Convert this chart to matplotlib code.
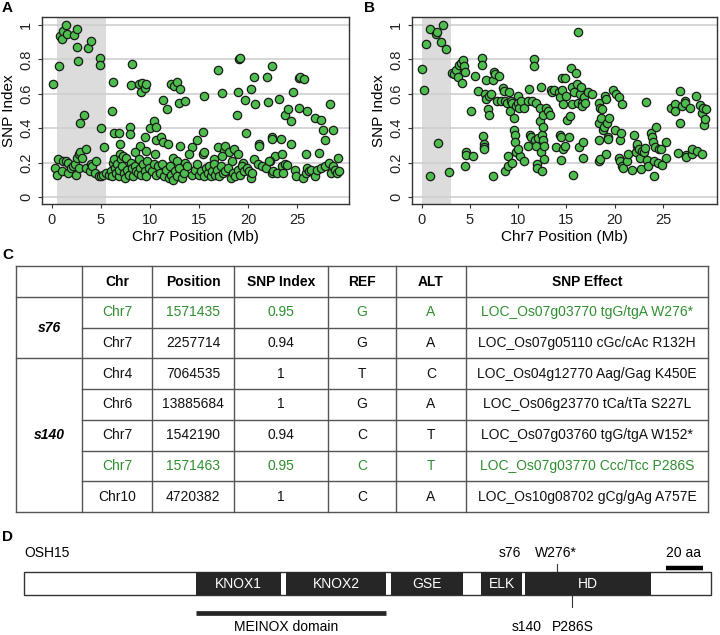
import matplotlib
matplotlib.use("Agg")
import matplotlib.pyplot as plt
from matplotlib.patches import Rectangle

plt.rcParams['font.family'] = ['Liberation Sans', 'DejaVu Sans']
plt.rcParams['font.size'] = 10

# ---- panel A data (Chr7 position in Mb, SNP index) ----
a_pts = [
    (0.15, 0.655), (0.75, 0.765), (0.85, 0.935), (1.0, 0.92), (1.15, 0.965), (1.4, 1.0),
    (1.5, 0.95), (2.3, 0.945), (2.6, 0.98), (2.6, 0.87), (2.7, 0.79), (3.7, 0.865),
    (3.95, 0.905), (4.95, 0.81), (4.95, 0.77), (2.9, 0.43), (3.25, 0.475), (5.05, 0.40),
    (5.3, 0.29), (0.3, 0.17), (0.5, 0.13), (0.6, 0.22), (1.0, 0.15), (1.1, 0.21),
    (1.4, 0.21), (1.7, 0.20), (1.7, 0.14), (2.0, 0.17), (2.2, 0.18), (2.4, 0.19),
    (2.5, 0.13), (2.6, 0.23), (2.8, 0.17), (2.8, 0.25), (2.9, 0.26), (3.1, 0.23),
    (3.5, 0.28), (3.5, 0.17), (3.9, 0.15), (4.0, 0.19), (4.1, 0.18), (4.4, 0.14),
    (4.5, 0.21), (4.8, 0.12), (5.0, 0.12), (5.2, 0.13), (5.5, 0.14),
    (6.1, 0.50), (6.2, 0.67), (6.3, 0.37), (6.9, 0.375), (7.0, 0.31), (8.0, 0.41),
    (8.0, 0.365), (8.1, 0.65), (8.2, 0.775), (8.9, 0.66), (9.1, 0.61), (9.2, 0.665),
    (9.5, 0.635), (9.6, 0.66), (9.5, 0.35), (9.0, 0.30), (10.0, 0.40), (10.4, 0.44),
    (10.6, 0.41), (10.6, 0.33), (10.5, 0.25), (9.6, 0.27), (8.5, 0.26),
    (5.8, 0.13), (6.0, 0.15), (6.1, 0.12), (6.2, 0.20), (6.3, 0.22), (6.4, 0.17),
    (6.5, 0.14), (6.6, 0.19), (6.8, 0.12), (6.9, 0.16), (7.0, 0.25), (7.1, 0.22),
    (7.2, 0.18), (7.3, 0.24), (7.4, 0.14), (7.5, 0.11), (7.6, 0.23), (7.7, 0.16),
    (7.9, 0.13), (8.1, 0.20), (8.2, 0.17), (8.3, 0.12), (8.5, 0.18), (8.6, 0.15),
    (8.8, 0.14), (8.9, 0.22), (9.0, 0.17), (9.1, 0.13), (9.3, 0.19), (9.5, 0.15),
    (9.6, 0.12), (9.7, 0.21), (9.9, 0.17), (10.2, 0.15), (10.4, 0.19), (10.6, 0.13),
    (10.8, 0.18),
    (11.3, 0.565), (11.7, 0.51), (12.2, 0.655), (12.5, 0.645), (12.8, 0.67), (13.1, 0.63),
    (13.0, 0.545), (13.6, 0.56), (11.1, 0.35), (11.3, 0.32), (11.8, 0.31), (13.1, 0.30),
    (14.3, 0.29), (14.8, 0.33), (15.4, 0.38), (15.5, 0.59), (15.4, 0.25), (15.5, 0.26),
    (12.4, 0.23), (12.8, 0.21), (13.6, 0.20), (14.0, 0.25),
    (11.0, 0.14), (11.2, 0.19), (11.4, 0.12), (11.6, 0.16), (11.9, 0.11), (12.0, 0.18),
    (12.2, 0.13), (12.4, 0.10), (12.6, 0.15), (12.8, 0.12), (13.0, 0.17), (13.3, 0.11),
    (13.5, 0.14), (13.8, 0.18), (14.3, 0.13), (14.6, 0.16), (14.8, 0.19), (15.0, 0.13),
    (15.2, 0.15), (15.5, 0.12), (15.7, 0.17), (15.9, 0.14),
    (16.9, 0.74), (17.4, 0.605), (19.1, 0.80), (19.15, 0.81), (18.95, 0.61), (18.9, 0.48),
    (19.8, 0.375), (19.7, 0.565), (16.9, 0.29), (17.6, 0.27), (17.7, 0.30), (18.1, 0.26),
    (18.6, 0.28), (19.0, 0.25), (16.5, 0.22), (17.4, 0.24), (18.4, 0.21), (19.5, 0.20),
    (16.0, 0.18), (16.2, 0.12), (16.3, 0.15), (16.5, 0.19), (16.6, 0.13), (16.8, 0.16),
    (17.0, 0.12), (17.2, 0.18), (17.5, 0.14), (17.7, 0.15), (18.0, 0.17), (18.3, 0.11),
    (18.5, 0.14), (18.7, 0.12), (19.0, 0.16), (19.2, 0.13), (19.4, 0.18), (19.6, 0.15),
    (19.9, 0.17),
    (20.3, 0.63), (20.6, 0.70), (20.7, 0.54), (21.9, 0.70), (22.0, 0.555), (22.5, 0.765),
    (23.2, 0.57), (23.8, 0.48), (24.1, 0.515), (24.4, 0.44), (24.6, 0.61), (25.2, 0.69),
    (25.3, 0.70), (25.7, 0.685), (25.2, 0.52), (21.1, 0.31), (21.15, 0.30), (22.4, 0.35),
    (22.4, 0.335), (23.4, 0.335), (24.4, 0.31), (20.6, 0.22), (22.8, 0.24), (23.5, 0.25),
    (22.2, 0.21),
    (20.1, 0.15), (20.3, 0.11), (20.4, 0.14), (21.0, 0.19), (21.4, 0.18), (21.8, 0.17),
    (22.1, 0.21), (22.4, 0.14), (22.6, 0.15), (23.0, 0.14), (23.5, 0.18), (23.6, 0.14),
    (23.8, 0.19), (24.0, 0.185), (24.8, 0.16), (24.9, 0.12),
    (25.9, 0.25), (26.0, 0.50), (26.8, 0.46), (27.4, 0.45), (27.6, 0.39), (27.9, 0.33),
    (28.4, 0.54), (28.7, 0.39), (27.2, 0.255), (29.2, 0.23),
    (25.6, 0.11), (25.9, 0.14), (26.0, 0.17), (26.2, 0.15), (26.4, 0.16), (26.8, 0.12),
    (27.0, 0.16), (27.4, 0.17), (27.9, 0.18), (28.3, 0.20), (28.5, 0.14), (28.7, 0.18),
    (28.9, 0.16), (29.1, 0.14), (29.3, 0.15),
]

# ---- panel B data ----
b_pts = [
    (0.0, 0.745), (0.2, 0.62), (0.4, 0.89), (0.85, 0.975), (0.9, 0.12), (1.5, 0.95),
    (1.55, 0.96), (1.7, 0.315), (2.0, 0.90), (2.25, 1.0), (2.5, 0.86), (2.8, 0.145),
    (3.1, 0.72), (3.3, 0.715), (3.6, 0.74), (3.8, 0.70), (3.9, 0.77), (4.1, 0.78),
    (4.2, 0.665), (4.3, 0.795), (4.35, 0.76), (4.5, 0.725), (4.5, 0.18), (4.6, 0.265),
    (4.6, 0.245), (5.1, 0.50), (5.3, 0.24), (5.5, 0.705), (5.8, 0.615), (6.3, 0.81),
    (6.3, 0.77), (6.4, 0.355), (6.5, 0.31), (6.5, 0.29), (6.5, 0.28), (6.6, 0.60),
    (6.7, 0.68), (6.7, 0.57), (6.9, 0.51), (7.0, 0.59), (7.0, 0.475), (7.2, 0.60),
    (7.4, 0.68), (7.45, 0.725), (7.4, 0.12), (7.6, 0.715), (7.8, 0.56), (8.0, 0.705),
    (8.2, 0.56), (8.4, 0.635), (8.5, 0.615), (8.6, 0.56), (8.6, 0.15), (8.8, 0.55),
    (8.9, 0.24), (8.9, 0.18), (9.1, 0.61), (9.2, 0.50), (9.3, 0.56), (9.4, 0.55),
    (9.4, 0.20), (9.6, 0.46), (9.6, 0.39), (9.7, 0.36), (9.7, 0.32), (9.8, 0.53),
    (9.8, 0.26), (10.0, 0.59), (10.0, 0.55), (10.1, 0.52), (10.2, 0.24), (10.0, 0.28),
    (10.3, 0.56), (10.6, 0.52), (10.6, 0.21), (11.0, 0.56), (11.0, 0.30), (11.1, 0.63),
    (11.2, 0.36), (11.3, 0.35), (11.4, 0.56), (11.6, 0.80), (11.6, 0.76), (11.7, 0.33),
    (11.8, 0.55), (11.8, 0.30), (11.9, 0.19), (11.95, 0.17), (12.1, 0.345), (12.3, 0.52),
    (12.3, 0.44), (12.4, 0.64), (12.4, 0.26), (12.5, 0.36), (12.5, 0.15), (12.6, 0.48),
    (12.6, 0.41), (12.6, 0.33), (12.7, 0.30), (12.7, 0.22), (12.9, 0.52), (13.1, 0.50),
    (13.3, 0.48), (13.4, 0.62), (13.5, 0.61), (13.7, 0.62), (13.9, 0.29), (14.2, 0.61),
    (14.3, 0.58), (14.3, 0.36), (14.4, 0.215), (14.4, 0.35), (14.5, 0.69), (14.5, 0.62),
    (14.6, 0.54), (14.6, 0.28), (14.9, 0.69), (14.9, 0.30), (15.0, 0.59), (15.1, 0.45),
    (15.3, 0.35), (15.4, 0.47),
    (15.5, 0.75), (15.6, 0.64), (15.6, 0.54), (15.7, 0.13), (15.8, 0.61), (16.0, 0.72),
    (16.1, 0.66), (16.2, 0.96), (16.2, 0.55), (16.3, 0.29), (16.4, 0.60), (16.5, 0.64),
    (16.6, 0.55), (16.6, 0.53), (16.7, 0.32), (16.7, 0.23), (16.8, 0.58), (16.9, 0.55),
    (17.2, 0.61), (17.7, 0.60), (18.4, 0.55), (18.5, 0.52), (18.4, 0.43), (18.4, 0.33),
    (18.4, 0.21), (18.5, 0.22), (18.6, 0.46), (18.7, 0.51), (18.8, 0.39), (18.9, 0.41),
    (19.0, 0.59), (19.05, 0.25), (19.1, 0.57), (19.2, 0.43), (19.3, 0.35), (19.3, 0.34),
    (19.4, 0.46), (19.8, 0.62), (20.0, 0.39), (20.1, 0.60),
    (20.4, 0.58), (20.4, 0.23), (20.5, 0.21), (20.6, 0.33), (20.7, 0.37), (20.8, 0.54),
    (20.8, 0.18), (20.9, 0.17), (21.3, 0.21), (21.4, 0.25), (21.8, 0.16), (22.0, 0.36),
    (22.2, 0.26), (22.3, 0.30), (22.3, 0.31), (22.5, 0.28), (22.6, 0.23), (22.7, 0.165),
    (22.8, 0.27), (23.0, 0.26), (23.1, 0.285), (23.2, 0.555), (23.3, 0.215), (23.4, 0.18),
    (23.8, 0.37), (23.9, 0.35), (24.0, 0.32), (24.1, 0.21), (24.1, 0.12), (24.2, 0.29),
    (24.3, 0.41), (24.5, 0.20), (24.6, 0.28), (24.8, 0.28), (24.9, 0.185), (25.3, 0.23),
    (25.3, 0.32),
    (25.8, 0.52), (26.2, 0.54), (26.3, 0.50), (26.6, 0.255), (26.8, 0.615), (26.8, 0.43),
    (27.0, 0.53), (27.3, 0.56), (27.3, 0.545), (27.4, 0.245), (27.4, 0.235), (27.8, 0.52),
    (28.0, 0.25), (28.0, 0.28), (28.4, 0.59), (28.5, 0.27), (28.8, 0.535), (29.0, 0.49),
    (29.0, 0.25), (29.2, 0.52), (29.3, 0.42), (29.4, 0.455), (29.5, 0.515),
]

a_shade = (0.5, 5.5)
b_shade = (0.0, 3.0)

# ---- panel C table ----
col_headers = ['', 'Chr', 'Position', 'SNP Index', 'REF', 'ALT', 'SNP Effect']
samples = ['s76', 's140']
sample_rows = [2, 5]
chrs = ['Chr7', 'Chr7', 'Chr4', 'Chr6', 'Chr7', 'Chr7', 'Chr10']
positions = ['1571435', '2257714', '7064535', '13885684', '1542190', '1571463', '4720382']
snp_index = ['0.95', '0.94', '1', '1', '0.94', '0.95', '1']
refs = ['G', 'G', 'T', 'G', 'C', 'C', 'C']
alts = ['A', 'A', 'C', 'A', 'T', 'T', 'A']
effects = ['LOC_Os07g03770 tgG/tgA W276*', 'LOC_Os07g05110 cGc/cAc R132H',
           'LOC_Os04g12770 Aag/Gag K450E', 'LOC_Os06g23770 tCa/tTa S227L',
           'LOC_Os07g03760 tgG/tgA W152*', 'LOC_Os07g03770 Ccc/Tcc P286S',
           'LOC_Os10g08702 gCg/gAg A757E']
highlight = [True, False, False, False, False, True, False]

# ---- panel D domains (pixel layout of the protein sketch) ----
domains = ['KNOX1', 'KNOX2', 'GSE', 'ELK', 'HD']
dom_start = [196, 286, 391, 481, 525]
dom_end = [281, 386, 463, 522, 651]

green = '#4dbd4d'
text_green = '#2f8f2f'

fig = plt.figure(figsize=(7.2, 6.35), dpi=100)


def scatter_panel(rect, pts, shade, xlim):
    ax = fig.add_axes(rect)
    ax.axvspan(shade[0], shade[1], color='#dcdcdc', lw=0, zorder=0)
    for yv in [0, 0.2, 0.4, 0.6, 0.8, 1.0]:
        ax.axhline(yv, color='#cfcfcf', lw=1.2, zorder=1)
    xs = [p[0] for p in pts]
    ys = [p[1] for p in pts]
    ax.scatter(xs, ys, s=36, c=green, edgecolors='#1a1a1a', linewidths=0.9, zorder=3)
    ax.set_xlim(*xlim)
    ax.set_ylim(-0.04, 1.047)
    ax.set_xticks([0, 5, 10, 15, 20, 25])
    ax.set_yticks([0, 0.2, 0.4, 0.6, 0.8, 1.0])
    ax.set_yticklabels(['0', '0.2', '0.4', '0.6', '0.8', '1'], rotation=90, va='center')
    ax.tick_params(labelsize=10.5, color='#333333', length=3, labelcolor='#222222')
    for sp in ax.spines.values():
        sp.set_color('#333333')
        sp.set_linewidth(1.0)
    ax.set_xlabel('Chr7 Position (Mb)', fontsize=11, labelpad=2)
    ax.set_ylabel('SNP Index', fontsize=11, labelpad=2)
    return ax


scatter_panel([42 / 720, 1 - 204 / 635, 307 / 720, 187 / 635], a_pts, a_shade, (-1.0, 30.3))
scatter_panel([412 / 720, 1 - 204 / 635, 305 / 720, 187 / 635], b_pts, b_shade, (-1.0, 30.6))

# overlay in pixel coordinates for labels, table and protein sketch
ov = fig.add_axes([0, 0, 1, 1], zorder=-1)
ov.set_xlim(0, 720)
ov.set_ylim(635, 0)
ov.axis('off')

for lab, (x, y) in zip(['A', 'B', 'C', 'D'], [(2, 8), (364, 8), (2, 255), (2, 537)]):
    ov.text(x, y, lab, fontsize=11, fontweight='bold', va='center', ha='left')

# table
col_x = [16, 82, 152, 234, 328, 396, 466, 708]
top = 266
header_h = 31
row_h = 30.7
n_rows = len(chrs)
bottom = top + header_h + n_rows * row_h
lc = '#555555'
for x in col_x:
    ov.plot([x, x], [top, bottom], color=lc, lw=1.0)
ov.plot([col_x[0], col_x[-1]], [top, top], color=lc, lw=1.0)
ov.plot([col_x[0], col_x[-1]], [bottom, bottom], color=lc, lw=1.0)
ov.plot([col_x[0], col_x[-1]], [top + header_h, top + header_h], color=lc, lw=1.0)
r = 0
for s, n in zip(samples, sample_rows):
    y0 = top + header_h + r * row_h
    ov.text((col_x[0] + col_x[1]) / 2, y0 + n * row_h / 2, s, fontsize=10,
            fontweight='bold', style='italic', ha='center', va='center')
    for k in range(1, n):
        yy = y0 + k * row_h
        ov.plot([col_x[1], col_x[-1]], [yy, yy], color=lc, lw=1.0)
    r += n
    if r < n_rows:
        yy = top + header_h + r * row_h
        ov.plot([col_x[0], col_x[-1]], [yy, yy], color=lc, lw=1.0)

for j, h in enumerate(col_headers):
    ov.text((col_x[j] + col_x[j + 1]) / 2, top + header_h / 2 + 1, h, fontsize=10,
            fontweight='bold', ha='center', va='center')

columns = [chrs, positions, snp_index, refs, alts, effects]
for i in range(n_rows):
    yc = top + header_h + (i + 0.5) * row_h
    colr = text_green if highlight[i] else '#111111'
    for j, col in enumerate(columns):
        ov.text((col_x[j + 1] + col_x[j + 2]) / 2, yc, col[i], fontsize=10,
                ha='center', va='center', color=colr)

# protein sketch
bar_y0, bar_y1 = 572, 595
ov.add_patch(Rectangle((24, bar_y0), 711 - 24, bar_y1 - bar_y0, facecolor='white',
                       edgecolor='#333333', lw=1.0))
for name, x0, x1 in zip(domains, dom_start, dom_end):
    ov.add_patch(Rectangle((x0, bar_y0), x1 - x0, bar_y1 - bar_y0, facecolor='#262626',
                           edgecolor='none'))
    ov.text((x0 + x1) / 2, (bar_y0 + bar_y1) / 2, name, color='white', fontsize=10,
            ha='center', va='center')
ov.text(24, 553, 'OSH15', fontsize=10, ha='left', va='center')
ov.plot([196, 386], [613, 613], color='#262626', lw=3.4, solid_capstyle='butt')
ov.text(286, 627, 'MEINOX domain', fontsize=10, ha='center', va='center')
ov.plot([666, 703], [568, 568], color='black', lw=3.2, solid_capstyle='butt')
ov.text(684, 553, '20 aa', fontsize=10, ha='center', va='center')
ov.plot([557, 557], [564, bar_y0], color='#333333', lw=0.8)
ov.text(510, 553, 's76', fontsize=10, ha='center', va='center')
ov.text(556, 553, 'W276*', fontsize=10, ha='center', va='center')
ov.plot([572, 572], [bar_y1, 607], color='#333333', lw=0.8)
ov.text(527, 627, 's140', fontsize=10, ha='center', va='center')
ov.text(573, 627, 'P286S', fontsize=10, ha='center', va='center')

fig.savefig('out.png', dpi=100)
